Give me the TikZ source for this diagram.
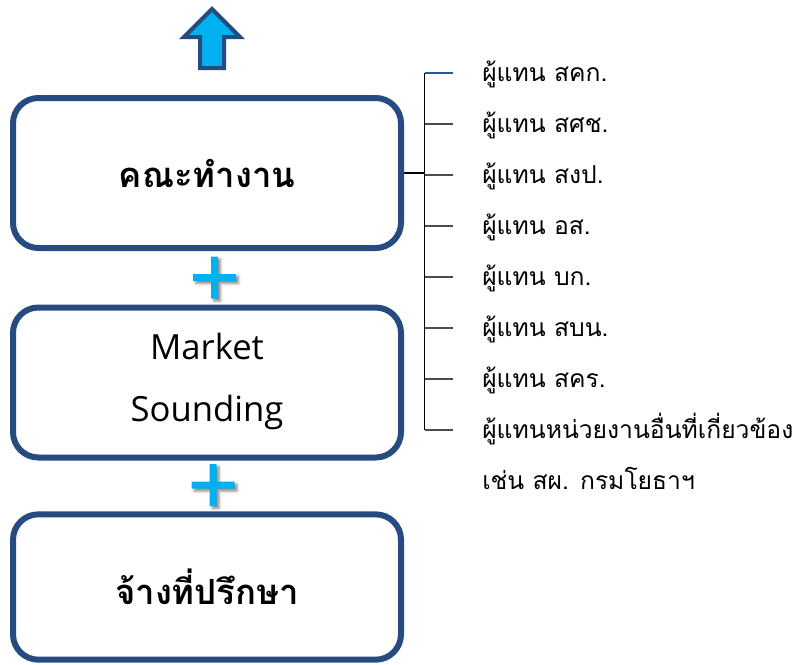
\documentclass[tikz,border=0pt]{standalone}
\usepackage{fontspec}
\newfontfamily\thaifont[Script=Thai]{Loma}
\newfontfamily\latinfont{Open Sans}
\usetikzlibrary{shadows.blur}

\definecolor{boxblue}{RGB}{38,75,128}
\definecolor{pluscyan}{RGB}{0,176,240}
\definecolor{tickblue}{RGB}{47,85,151}

\begin{document}
\begin{tikzpicture}[x=0.75pt, y=-0.75pt,
    stage/.style={draw=boxblue, line width=4.5pt, rounded corners=19pt, fill=white,
        minimum width=291pt, minimum height=112.5pt, align=center},
    stagefont/.style={font=\thaifont\bfseries\fontsize{26}{32}\selectfont},
    member/.style={anchor=base west, inner sep=0pt, font=\thaifont\fontsize{18.5}{22}\selectfont},
    plussign/.style={fill=pluscyan, draw=none,
        blur shadow={shadow xshift=2pt, shadow yshift=-2pt, shadow blur steps=6, shadow opacity=45}},
    uparrow/.style={draw=boxblue, line width=3pt, fill=pluscyan, line join=miter},
    tick/.style={draw=black!70, line width=1pt}]

    % page size
    \useasboundingbox (0,0) rectangle (806,664);

    % --- the three stages ---
    \node[stage, stagefont] (team) at (207,173) {คณะทำงาน};
    \node[stage, font=\latinfont\fontsize{26}{47}\selectfont, text depth=8pt] (market) at (207,382.5) {Market\\Sounding};
    \node[stage, stagefont, minimum height=109pt] (consult) at (207,587) {จ้างที่ปรึกษา};

    % arrow on top
    \draw[uparrow] (212,9) -- (240,37) -- (224,37) -- (224,68) -- (200,68) -- (200,37) -- (184,37) -- cycle;

    % plus signs between the boxes
    \foreach \cx/\cy in {214.5/277.5, 213/485}
        \fill[plussign] (\cx-3.5,\cy-21) -- (\cx+3.5,\cy-21) -- (\cx+3.5,\cy-3.5) -- (\cx+21.5,\cy-3.5)
            -- (\cx+21.5,\cy+3.5) -- (\cx+3.5,\cy+3.5) -- (\cx+3.5,\cy+21) -- (\cx-3.5,\cy+21)
            -- (\cx-3.5,\cy+3.5) -- (\cx-21.5,\cy+3.5) -- (\cx-21.5,\cy-3.5) -- (\cx-3.5,\cy-3.5) -- cycle;

    % --- members of the team ---
    \foreach \txt [count=\i] in {ผู้แทน สคก., ผู้แทน สศช., ผู้แทน สงป., ผู้แทน อส., ผู้แทน บก.,
            ผู้แทน สบน., ผู้แทน สคร., ผู้แทนหน่วยงานอื่นที่เกี่ยวข้อง, เช่น สผ. กรมโยธาฯ}
        \node[member] (m\i) at (482,{73+51*(\i-1)+8}) {\txt};

    % bracket
    \foreach \i in {1,...,8} {
        \coordinate (s\i) at (424.5,{73+51*(\i-1)});
        \coordinate (t\i) at (453,{73+51*(\i-1)});
    }
    \coordinate (join) at (424.5,173);
    \draw[line width=1.2pt] (s1) -- (s8);
    \draw[tick, draw=tickblue] (s1) -- (t1);
    \foreach \i in {2,...,8}
        \draw[tick] (s\i) -- (t\i);
    \draw[line width=1.2pt] (team.east) -- (join);

\end{tikzpicture}
\end{document}
